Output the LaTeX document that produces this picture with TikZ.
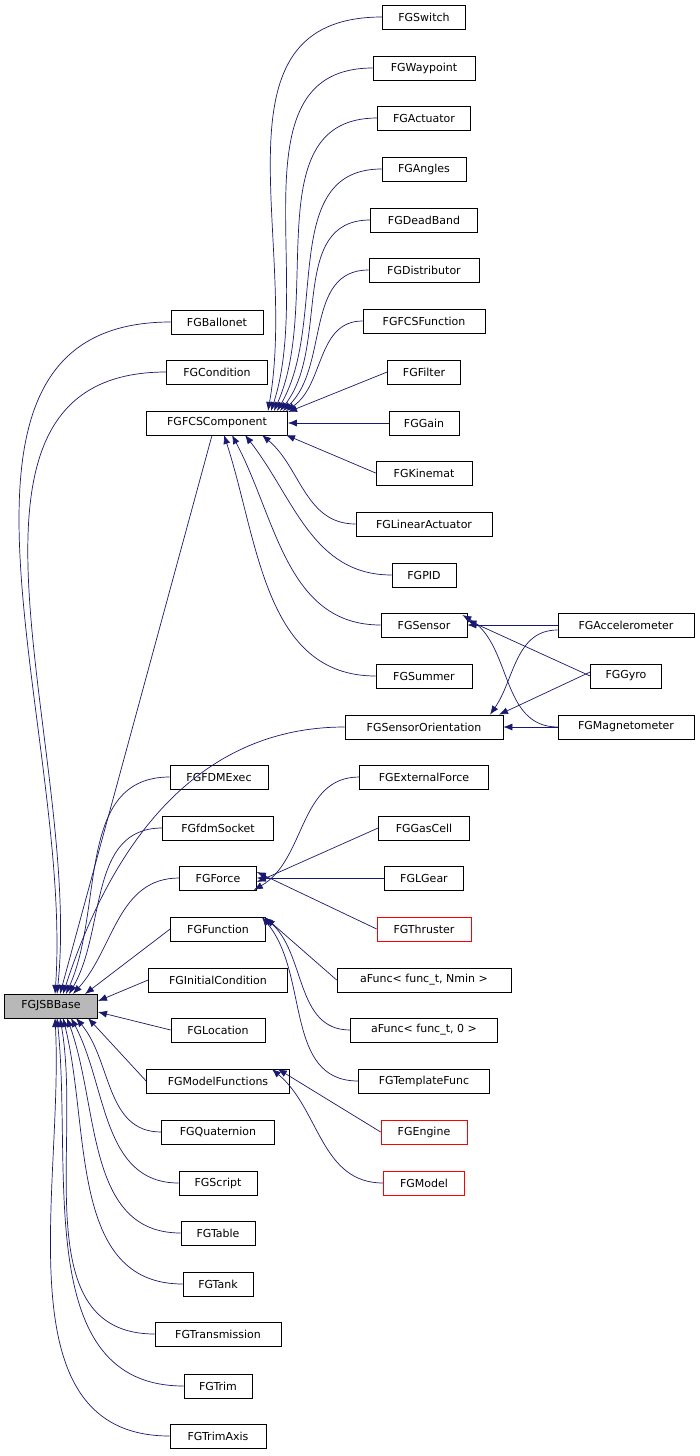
\documentclass[tikz,border=0pt]{standalone}
\usepackage{fontspec}
\setmainfont{DejaVu Sans}
\usetikzlibrary{arrows.meta}
\definecolor{edge}{HTML}{191970}
\begin{document}
\begin{tikzpicture}[x=1pt,y=-1pt,
  box/.style={draw=black,line width=0.7pt,fill=white,minimum height=24pt,inner sep=0pt,font=\fontsize{11}{12}\selectfont},
  rbox/.style={box,draw=red},
  e/.style={draw=edge,line width=0.7pt,-{Latex[length=9pt,width=7pt]}}]
\useasboundingbox[fill=white] (0,0) rectangle (700,1456);
\node[box,fill=black!28,minimum width=93pt] (base) at (51,1006) {FGJSBBase};
% column 1
\node[box,minimum width=92pt] (ball) at (217,322) {FGBallonet};
\node[box,minimum width=101pt] (cond) at (217,372) {FGCondition};
\node[box,minimum width=141pt] (fcs) at (217,423) {FGFCSComponent};
\node[box,minimum width=98pt] (fdm) at (219,777) {FGFDMExec};
\node[box,minimum width=111pt] (sock) at (218,828) {FGfdmSocket};
\node[box,minimum width=77pt] (force) at (218,878) {FGForce};
\node[box,minimum width=95pt] (func) at (218,929) {FGFunction};
\node[box,minimum width=139pt] (ic) at (218,980) {FGInitialCondition};
\node[box,minimum width=94pt] (loc) at (218,1030) {FGLocation};
\node[box,minimum width=143pt] (mf) at (218,1081) {FGModelFunctions};
\node[box,minimum width=113pt] (quat) at (218,1132) {FGQuaternion};
\node[box,minimum width=78pt] (script) at (218,1183) {FGScript};
\node[box,minimum width=74pt] (table) at (218,1233) {FGTable};
\node[box,minimum width=70pt] (tank) at (218,1284) {FGTank};
\node[box,minimum width=126pt] (trans) at (218,1334) {FGTransmission};
\node[box,minimum width=68pt] (trim) at (218,1386) {FGTrim};
\node[box,minimum width=96pt] (trimax) at (218,1436) {FGTrimAxis};
% column 2
\node[box,minimum width=83pt] (sw) at (424,17) {FGSwitch};
\node[box,minimum width=102pt] (wp) at (424,68) {FGWaypoint};
\node[box,minimum width=93pt] (act) at (424,118) {FGActuator};
\node[box,minimum width=84pt] (ang) at (424,169) {FGAngles};
\node[box,minimum width=107pt] (db) at (424,220) {FGDeadBand};
\node[box,minimum width=110pt] (dist) at (424,270) {FGDistributor};
\node[box,minimum width=122pt] (fcsf) at (424,321) {FGFCSFunction};
\node[box,minimum width=73pt] (filt) at (424,372) {FGFilter};
\node[box,minimum width=70pt] (gain) at (424,423) {FGGain};
\node[box,minimum width=96pt] (kin) at (424,473) {FGKinemat};
\node[box,minimum width=136pt] (lin) at (424,524) {FGLinearActuator};
\node[box,minimum width=64pt] (pid) at (424,575) {FGPID};
\node[box,minimum width=86pt] (sens) at (424,625) {FGSensor};
\node[box,minimum width=96pt] (sum) at (424,676) {FGSummer};
\node[box,minimum width=158pt] (so) at (424,727) {FGSensorOrientation};
\node[box,minimum width=129pt] (ext) at (424,777) {FGExternalForce};
\node[box,minimum width=91pt] (gas) at (424,828) {FGGasCell};
\node[box,minimum width=79pt] (lg) at (424,878) {FGLGear};
\node[rbox,minimum width=94pt] (thr) at (424,929) {FGThruster};
\node[box,minimum width=174pt] (afn) at (424,980) {aFunc< func\_t, Nmin >};
\node[box,minimum width=147pt] (af0) at (424,1030) {aFunc< func\_t, 0 >};
\node[box,minimum width=131pt] (tf) at (424,1081) {FGTemplateFunc};
\node[rbox,minimum width=86pt] (eng) at (424,1132) {FGEngine};
\node[rbox,minimum width=81pt] (mod) at (424,1183) {FGModel};
% column 3
\node[box,minimum width=136pt] (acc) at (626,625) {FGAccelerometer};
\node[box,minimum width=71pt] (gyro) at (626,676) {FGGyro};
\node[box,minimum width=136pt] (mag) at (626,727) {FGMagnetometer};
% edges to base
\draw[e] (ball.west) to[out=180,in=86] (55,994);
\draw[e] (cond.west) to[out=180,in=84] (57,994);
\draw[e] ([xshift=-5pt]fcs.south) -- (60,994);
\draw[e] (so.west) to[out=180,in=72] (63,994);
\draw[e] (fdm.west) to[out=180,in=66] (66,994);
\draw[e] (sock.west) to[out=180,in=60] (69,994);
\draw[e] (force.west) to[out=180,in=48] (73,994);
\draw[e] (func.west) -- (85,994);
\draw[e] (ic.west) -- (98,1001);
\draw[e] (loc.west) -- (98,1012);
\draw[e] (mf.west) -- (88,1018);
\draw[e] (quat.west) to[out=180,in=-50] (76,1018);
\draw[e] (script.west) to[out=180,in=-62] (71,1018);
\draw[e] (table.west) to[out=180,in=-70] (67,1018);
\draw[e] (tank.west) to[out=180,in=-76] (63,1018);
\draw[e] (trans.west) to[out=180,in=-80] (60,1018);
\draw[e] (trim.west) to[out=180,in=-84] (57,1018);
\draw[e] (trimax.west) to[out=180,in=-87] (55,1018);
% FCS component children
\draw[e] (sw.west) to[out=180,in=80,looseness=1.1] (268,411);
\draw[e] (wp.west) to[out=180,in=72] (271,411);
\draw[e] (act.west) to[out=180,in=66] (274,411);
\draw[e] (ang.west) to[out=180,in=60] (277,411);
\draw[e] (db.west) to[out=180,in=52] (280,411);
\draw[e] (dist.west) to[out=180,in=44] (283,411);
\draw[e] (fcsf.west) to[out=180,in=34] (286,411);
\draw[e] (filt.west) -- (288,412);
\draw[e] (gain.west) -- (fcs.east);
\draw[e] (kin.west) -- (286,435);
\draw[e] (lin.west) to[out=180,in=-40] (262,435);
\draw[e] (pid.west) to[out=180,in=-52] (245,435);
\draw[e] (sens.west) to[out=180,in=-62] (232,435);
\draw[e] (sum.west) to[out=180,in=-72] (224,435);
% sensor
\draw[e] (acc.west) -- (sens.east);
\draw[e] (gyro.west) -- ([yshift=5pt]sens.east);
\draw[e] (mag.west) to[out=180,in=-30] ([yshift=10pt,xshift=-5pt]sens.east);
\draw[e] ([yshift=-5pt]acc.west) to[out=180,in=55] ([xshift=66pt]so.north);
\draw[e] ([yshift=4pt]gyro.west) -- ([xshift=75pt]so.north);
\draw[e] (mag.west) -- (so.east);
% force
\draw[e] (ext.west) to[out=180,in=30] ([xshift=-3pt,yshift=-12pt]force.east);
\draw[e] (gas.west) -- ([yshift=-4pt]force.east);
\draw[e] (lg.west) -- (force.east);
\draw[e] (thr.west) -- ([yshift=6pt]force.east);
% function
\draw[e] (afn.west) -- ([yshift=11pt]func.east);
\draw[e] (af0.west) to[out=180,in=-40] ([yshift=12pt,xshift=-2pt]func.east);
\draw[e] (tf.west) to[out=180,in=-50] ([yshift=12pt,xshift=-4pt]func.east);
% model functions
\draw[e] (eng.west) -- ([xshift=-12pt,yshift=12pt]mf.east);
\draw[e] (mod.west) to[out=180,in=-40] ([xshift=-18pt,yshift=12pt]mf.east);
\end{tikzpicture}
\end{document}
